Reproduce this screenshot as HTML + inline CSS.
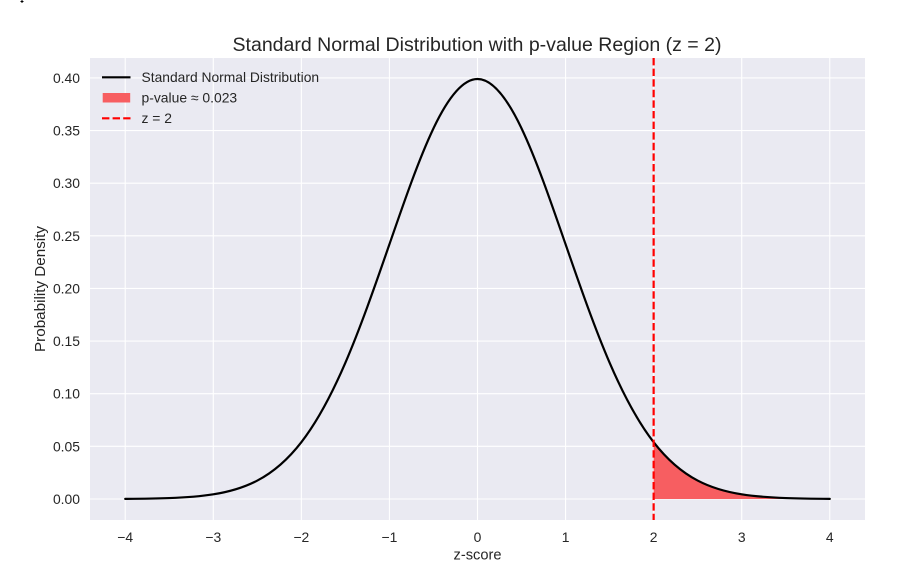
<!DOCTYPE html>
<html><head><meta charset="utf-8"><style>
html,body{margin:0;padding:0;background:#fff;}
svg{display:block;}
text{font-family:"Liberation Sans","DejaVu Sans",sans-serif;fill:#262626;}
</style></head><body>
<svg width="906" height="570" viewBox="0 0 906 570" xmlns="http://www.w3.org/2000/svg">
<rect x="0" y="0" width="906" height="570" fill="#fff"/>
<rect x="21.5" y="0" width="1" height="3" fill="#000"/>
<rect x="20.5" y="1" width="3" height="1" fill="#000"/>
<rect x="90" y="58" width="775" height="462" fill="#EAEAF2"/>
<g stroke="#fff" stroke-width="1.1">
<line x1="125.23" y1="58" x2="125.23" y2="520"/>
<line x1="213.30" y1="58" x2="213.30" y2="520"/>
<line x1="301.36" y1="58" x2="301.36" y2="520"/>
<line x1="389.43" y1="58" x2="389.43" y2="520"/>
<line x1="477.5" y1="58" x2="477.5" y2="520"/>
<line x1="565.57" y1="58" x2="565.57" y2="520"/>
<line x1="653.64" y1="58" x2="653.64" y2="520"/>
<line x1="741.70" y1="58" x2="741.70" y2="520"/>
<line x1="829.77" y1="58" x2="829.77" y2="520"/>
<line x1="90" y1="499.0" x2="865" y2="499.0"/>
<line x1="90" y1="446.36" x2="865" y2="446.36"/>
<line x1="90" y1="393.72" x2="865" y2="393.72"/>
<line x1="90" y1="341.08" x2="865" y2="341.08"/>
<line x1="90" y1="288.44" x2="865" y2="288.44"/>
<line x1="90" y1="235.80" x2="865" y2="235.80"/>
<line x1="90" y1="183.17" x2="865" y2="183.17"/>
<line x1="90" y1="130.53" x2="865" y2="130.53"/>
<line x1="90" y1="77.89" x2="865" y2="77.89"/>
</g>
<path d="M653.64,499.0 L653.64,442.16 C668.32,461.11 682.99,472.86 697.67,480.55 C712.35,488.24 727.02,492.00 741.70,494.33 C756.38,496.66 771.06,497.54 785.74,498.08 C800.42,498.62 815.09,498.77 829.77,498.86 L829.77,499.0 Z" fill="#F75E61"/>
<path d="M125.23,498.86 C139.91,498.77 154.58,498.62 169.26,498.08 C183.94,497.54 198.62,496.66 213.30,494.33 C227.98,492.00 242.65,488.24 257.33,480.55 C272.01,472.86 286.68,461.11 301.36,442.16 C316.04,423.21 330.72,396.74 345.40,362.65 C360.08,328.56 374.75,286.72 389.43,244.26 C404.11,201.80 418.79,159.24 433.47,128.35 C448.15,97.46 462.82,79.00 477.5,79.00 C492.18,79.00 506.85,97.46 521.53,128.35 C536.21,159.24 550.89,201.80 565.57,244.26 C580.25,286.72 594.92,328.56 609.60,362.65 C624.28,396.74 638.96,423.21 653.64,442.16 C668.32,461.11 682.99,472.86 697.67,480.55 C712.35,488.24 727.02,492.00 741.70,494.33 C756.38,496.66 771.06,497.54 785.74,498.08 C800.42,498.62 815.09,498.77 829.77,498.86" fill="none" stroke="#000" stroke-width="2.2" stroke-linejoin="round" stroke-linecap="round"/>
<line x1="653.64" y1="58" x2="653.64" y2="520" stroke="#FF0000" stroke-width="2.2" stroke-dasharray="7.4,3.2"/>
<g font-size="13.9" text-anchor="end">
<text x="80" y="504">0.00</text>
<text x="80" y="451.4">0.05</text>
<text x="80" y="398.7">0.10</text>
<text x="80" y="346.1">0.15</text>
<text x="80" y="293.4">0.20</text>
<text x="80" y="240.8">0.25</text>
<text x="80" y="188.2">0.30</text>
<text x="80" y="135.5">0.35</text>
<text x="80" y="82.9">0.40</text>
</g>
<g font-size="13.9" text-anchor="middle">
<text x="125.23" y="542">−4</text>
<text x="213.30" y="542">−3</text>
<text x="301.36" y="542">−2</text>
<text x="389.43" y="542">−1</text>
<text x="477.5" y="542">0</text>
<text x="565.57" y="542">1</text>
<text x="653.64" y="542">2</text>
<text x="741.70" y="542">3</text>
<text x="829.77" y="542">4</text>
</g>
<text x="477.5" y="559.5" font-size="15" text-anchor="middle" textLength="48" lengthAdjust="spacingAndGlyphs">z-score</text>
<text transform="translate(45,289) rotate(-90)" font-size="15" text-anchor="middle" textLength="126" lengthAdjust="spacingAndGlyphs">Probability Density</text>
<text x="477" y="51" font-size="19.4" text-anchor="middle" textLength="489" lengthAdjust="spacingAndGlyphs">Standard Normal Distribution with p-value Region (z = 2)</text>
<line x1="102" y1="77.3" x2="130.5" y2="77.3" stroke="#000" stroke-width="2.2"/>
<rect x="102.7" y="93" width="27.5" height="9.5" fill="#F75E61"/>
<line x1="102" y1="118.3" x2="130.5" y2="118.3" stroke="#FF0000" stroke-width="2.2" stroke-dasharray="7.4,3.2"/>
<g font-size="13.9">
<text x="141.5" y="82" textLength="177.6" lengthAdjust="spacingAndGlyphs">Standard Normal Distribution</text>
<text x="141.5" y="102.5">p-value ≈ 0.023</text>
<text x="141.5" y="123">z = 2</text>
</g>
</svg>
</body></html>
